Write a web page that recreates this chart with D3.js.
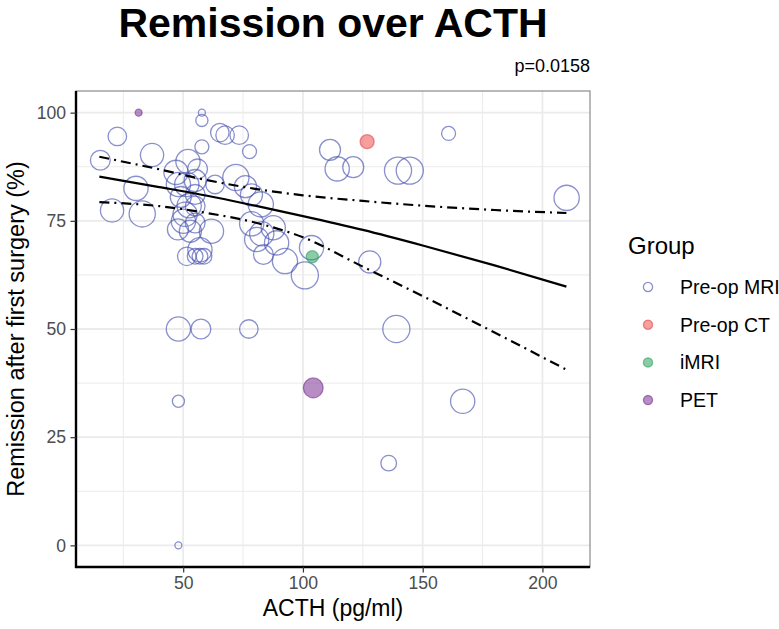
<!DOCTYPE html>
<html>
<head>
<meta charset="utf-8">
<script src="https://cdn.jsdelivr.net/npm/d3@7"></script>
<style>
  html, body { margin: 0; padding: 0; background: #fff; }
  svg { display: block; font-family: "Liberation Sans", Arial, Helvetica, sans-serif; }
</style>
</head>
<body>
<svg id="chart" width="779" height="629"></svg>
<script>
// ---------- data ----------
const groups = ["Pre-op MRI", "Pre-op CT", "iMRI", "PET"];

const acth = [
  15.4, 22.5, 37.0, 30.3, 20.3, 32.9, 47.0, 48.0, 49.0, 52.0,
  56.0, 55.0, 51.5, 55.0, 52.5, 50.8, 55.0, 47.8, 55.0, 50.1,
  53.0, 61.8, 57.0, 51.5, 55.0, 57.0, 58.7, 63.3, 72.0, 76.0,
  78.5, 82.4, 78.6, 80.7, 82.8, 83.5, 87.6, 89.0, 92.5, 100.8,
  103.6, 127.9, 139.0, 166.7, 135.8, 48.0, 57.4, 77.4, 48.0, 48.0,
  57.8, 57.8, 57.8, 65.3, 67.5, 73.4, 77.7, 111.3, 114.3, 121.0,
  139.7, 144.6, 160.8, 210.1,
  126.8, 103.9, 104.3, 31.4
];
const remission = [
  89.0, 94.5, 90.2, 82.5, 77.4, 76.6, 86.2, 83.4, 80.5, 88.7,
  87.0, 84.3, 83.4, 81.1, 78.5, 76.5, 78.4, 73.0, 74.5, 74.9,
  72.6, 72.6, 68.3, 66.8, 66.8, 66.8, 66.8, 83.4, 85.0, 82.9,
  81.0, 78.8, 74.3, 70.7, 72.0, 67.2, 73.4, 69.9, 65.7, 62.4,
  68.8, 65.5, 50.0, 33.3, 19.0, 50.0, 50.0, 50.0, 33.3, 0.0,
  100.0, 98.2, 92.1, 95.4, 94.8, 94.8, 91.0, 91.4, 87.0, 87.4,
  86.6, 86.6, 95.2, 80.3,
  93.3, 66.7, 36.4, 100.0
];
const nPatients = [
  8, 7, 11, 12, 11, 14, 12, 12, 9, 12,
  8, 10, 12, 8, 12, 12, 8, 9, 8, 12,
  10, 12, 12, 7, 5, 5, 5, 7, 14, 10,
  10, 13, 12, 12, 12, 8, 12, 12, 13, 15,
  12, 10, 15, 12, 5, 12, 8, 7, 3, 1,
  1, 3, 4, 7, 7, 7, 4, 9, 12, 9,
  15, 15, 4, 13,
  4, 3, 8, 1
];
const groupOf = [].concat(
  Array(64).fill("Pre-op MRI"),
  ["Pre-op CT", "iMRI", "PET", "PET"]
);

// fitted remission curve and its confidence band, read at these ACTH values
const fitACTH  = [15,   40,   60,   80,   100,  125,  150,  180,  210];
const fitMid   = [85.2, 82.8, 80.8, 78.5, 76.1, 72.9, 69.3, 64.7, 59.8];
const fitUpper = [89.8, 86.9, 84.4, 82.4, 80.9, 79.6, 78.5, 77.5, 76.8];
const fitLower = [79.3, 78.4, 76.8, 74.6, 71.2, 64.4, 57.6, 49.2, 40.6];

const xTicks = [50, 100, 150, 200];
const yTicks = [0, 25, 50, 75, 100];
const xMinor = [25, 75, 125, 175];
const yMinor = [12.5, 37.5, 62.5, 87.5];

const titleText = "Remission over ACTH";
const subtitleText = "p=0.0158";
const xTitle = "ACTH (pg/ml)";
const yTitle = "Remission after first surgery (%)";

// ---------- drawing ----------
const svg = d3.select("#chart");
const P = { left: 76, right: 590, top: 91, bottom: 567 };

const points = acth.map((x, i) => ({ x, y: remission[i], n: nPatients[i], g: groupOf[i] }));

const xExt = d3.extent(acth.concat(fitACTH));
const xPad = (xExt[1] - xExt[0]) * 0.05;
const x = d3.scaleLinear().domain([xExt[0] - xPad, xExt[1] + xPad]).range([P.left, P.right]);
const y = d3.scaleLinear().domain([-5, 105]).range([P.bottom, P.top]);
const r = d3.scaleSqrt().domain([0, 16]).range([0, 14]);

const fillC   = d3.scaleOrdinal().domain(groups).range(["none", "#ee5050", "#2ca25f", "#7b3294"]);
const strokeC = d3.scaleOrdinal().domain(groups).range(["#4a55b0", "#e04848", "#2ca25f", "#7b3294"]);

svg.append("rect").attr("width", 779).attr("height", 629).attr("fill", "#fff");

// grid
const grid = svg.append("g");
grid.selectAll(".xm").data(xMinor).join("line")
  .attr("x1", d => x(d)).attr("x2", d => x(d)).attr("y1", P.top).attr("y2", P.bottom)
  .attr("stroke", "#ebebeb").attr("stroke-width", 1);
grid.selectAll(".ym").data(yMinor).join("line")
  .attr("y1", d => y(d)).attr("y2", d => y(d)).attr("x1", P.left).attr("x2", P.right)
  .attr("stroke", "#ebebeb").attr("stroke-width", 1);
grid.selectAll(".xM").data(xTicks).join("line")
  .attr("x1", d => x(d)).attr("x2", d => x(d)).attr("y1", P.top).attr("y2", P.bottom)
  .attr("stroke", "#ebebeb").attr("stroke-width", 1.8);
grid.selectAll(".yM").data(yTicks).join("line")
  .attr("y1", d => y(d)).attr("y2", d => y(d)).attr("x1", P.left).attr("x2", P.right)
  .attr("stroke", "#ebebeb").attr("stroke-width", 1.8);

// panel border (top/right grey)
svg.append("rect").attr("x", P.left).attr("y", P.top)
  .attr("width", P.right - P.left).attr("height", P.bottom - P.top)
  .attr("fill", "none").attr("stroke", "#8a8a8a").attr("stroke-width", 1.2);

// points
svg.append("g").selectAll("circle").data(points).join("circle")
  .attr("cx", d => x(d.x)).attr("cy", d => y(d.y)).attr("r", d => r(d.n))
  .attr("fill", d => fillC(d.g))
  .attr("fill-opacity", d => d.g === "Pre-op MRI" ? 0 : 0.55)
  .attr("stroke", d => strokeC(d.g))
  .attr("stroke-opacity", d => d.g === "Pre-op MRI" ? 0.65 : 0.6)
  .attr("stroke-width", 1.3);

// fit lines
const line = (vals) => d3.line().curve(d3.curveMonotoneX)
  .x((d, i) => x(fitACTH[i])).y(d => y(d))(vals);
svg.append("path").attr("d", line(fitMid)).attr("fill", "none")
  .attr("stroke", "#000").attr("stroke-width", 2.2);
[fitUpper, fitLower].forEach(v => {
  svg.append("path").attr("d", line(v)).attr("fill", "none")
    .attr("stroke", "#000").attr("stroke-width", 2.2)
    .attr("stroke-dasharray", "10,5,2,5");
});

// axes
const xAxis = svg.append("g").attr("transform", `translate(0,${P.bottom})`)
  .call(d3.axisBottom(x).tickValues(xTicks).tickSize(5.5).tickPadding(4).tickSizeOuter(0));
const yAxis = svg.append("g").attr("transform", `translate(${P.left},0)`)
  .call(d3.axisLeft(y).tickValues(yTicks).tickSize(5.5).tickPadding(4.5).tickSizeOuter(0));
[xAxis, yAxis].forEach(a => {
  a.select(".domain").attr("stroke", "#000").attr("stroke-width", 2.4);
  a.selectAll(".tick line").attr("stroke", "#333").attr("stroke-width", 1.2);
  a.selectAll(".tick text").attr("fill", "#4d4d4d").attr("font-size", "17.6px")
    .attr("font-family", "Liberation Sans, Arial, sans-serif");
});
xAxis.select(".domain").attr("d", `M${P.left - 1},0H${P.right}`);
yAxis.select(".domain").attr("d", `M0,${P.top}V${P.bottom + 1}`);

// titles
svg.append("text").attr("x", (P.left + P.right) / 2).attr("y", 37)
  .attr("text-anchor", "middle").attr("font-size", "41px").attr("font-weight", "bold")
  .attr("fill", "#000").text(titleText);
svg.append("text").attr("x", P.right).attr("y", 72)
  .attr("text-anchor", "end").attr("font-size", "18px").attr("fill", "#000").text(subtitleText);
svg.append("text").attr("x", (P.left + P.right) / 2).attr("y", 616)
  .attr("text-anchor", "middle").attr("font-size", "23px").attr("fill", "#000").text(xTitle);
svg.append("text").attr("transform", `translate(24,${(P.top + P.bottom) / 2}) rotate(-90)`)
  .attr("text-anchor", "middle").attr("font-size", "23.5px").attr("fill", "#000").text(yTitle);

// legend
const lg = svg.append("g");
lg.append("text").attr("x", 628).attr("y", 254).attr("font-size", "24px").attr("fill", "#000").text("Group");
const items = lg.selectAll(".item").data(groups).join("g")
  .attr("transform", (d, i) => `translate(648,${287 + i * 37.7})`);
items.append("circle").attr("r", 4.6)
  .attr("fill", d => fillC(d))
  .attr("fill-opacity", d => d === "Pre-op MRI" ? 0 : 0.55)
  .attr("stroke", d => strokeC(d))
  .attr("stroke-opacity", d => d === "Pre-op MRI" ? 0.65 : 0.6)
  .attr("stroke-width", 1.3);
items.append("text").attr("x", 32).attr("y", 0).attr("dy", "0.35em")
  .attr("font-size", "19.5px").attr("fill", "#000").text(d => d);
</script>
</body>
</html>
